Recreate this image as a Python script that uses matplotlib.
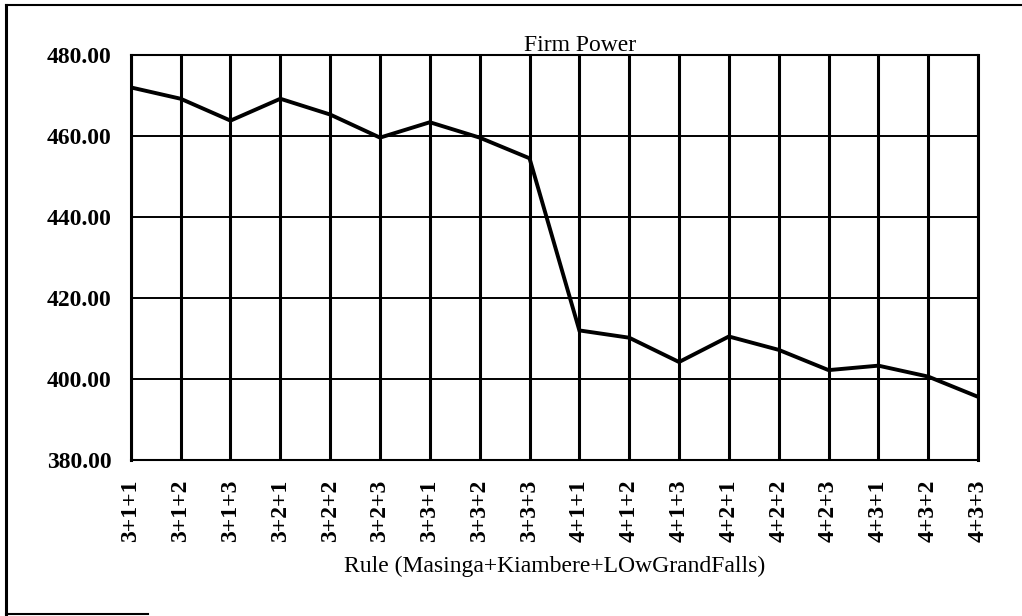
import matplotlib
matplotlib.use("Agg")
import matplotlib.pyplot as plt
from matplotlib.lines import Line2D

# firm power for each operating rule combination
rules = ["3+1+1", "3+1+2", "3+1+3", "3+2+1", "3+2+2", "3+2+3",
         "3+3+1", "3+3+2", "3+3+3", "4+1+1", "4+1+2", "4+1+3",
         "4+2+1", "4+2+2", "4+2+3", "4+3+1", "4+3+2", "4+3+3"]
firm_power = [472.0, 469.2, 463.8, 469.2, 465.3, 459.6,
              463.4, 459.6, 454.5, 412.0, 410.2, 404.2,
              410.5, 407.2, 402.2, 403.3, 400.6, 395.6]
yticks = [380, 400, 420, 440, 460, 480]

plt.rcParams['font.family'] = ['Liberation Serif', 'DejaVu Serif']

fig = plt.figure(figsize=(10.22, 6.16), dpi=100)
ax = fig.add_axes([0.128, 0.2532, 0.829, 0.6575])

x = list(range(len(rules)))
ax.plot(x, firm_power, color='black', lw=2.8, solid_joinstyle='miter', zorder=3)

ax.set_xlim(0, len(rules) - 1)
ax.set_ylim(380, 480)
ax.set_xticks(x)
ax.set_xticklabels(rules, rotation=90, fontsize=17, fontweight='bold')
ax.set_yticks(yticks)
ax.set_yticklabels(["%.2f" % v for v in yticks], fontsize=17, fontweight='bold')
ax.tick_params(length=0, pad=14)

# heavy category lines, lighter value lines
for xi in x:
    ax.axvline(xi, color='black', lw=2.2, zorder=1)
for yv in yticks:
    ax.axhline(yv, color='black', lw=1.4, zorder=1)

for side in ['left', 'right']:
    ax.spines[side].set_linewidth(2.2)
for side in ['top', 'bottom']:
    ax.spines[side].set_linewidth(1.5)

ax.text(0.53, 0.998, "Firm Power", transform=ax.transAxes, ha='center', va='bottom', fontsize=17)
ax.set_xlabel("Rule (Masinga+Kiambere+LOwGrandFalls)", fontsize=17, labelpad=10)

# outer frame of the figure
fig.add_artist(Line2D([0.006, 0.006], [0.003, 0.992], transform=fig.transFigure, color='black', lw=2.2))
fig.add_artist(Line2D([0.006, 1.0], [0.992, 0.992], transform=fig.transFigure, color='black', lw=1.5))
fig.add_artist(Line2D([0.006, 0.145], [0.004, 0.004], transform=fig.transFigure, color='black', lw=1.5))

fig.savefig("out.png", dpi=100, facecolor='white')
